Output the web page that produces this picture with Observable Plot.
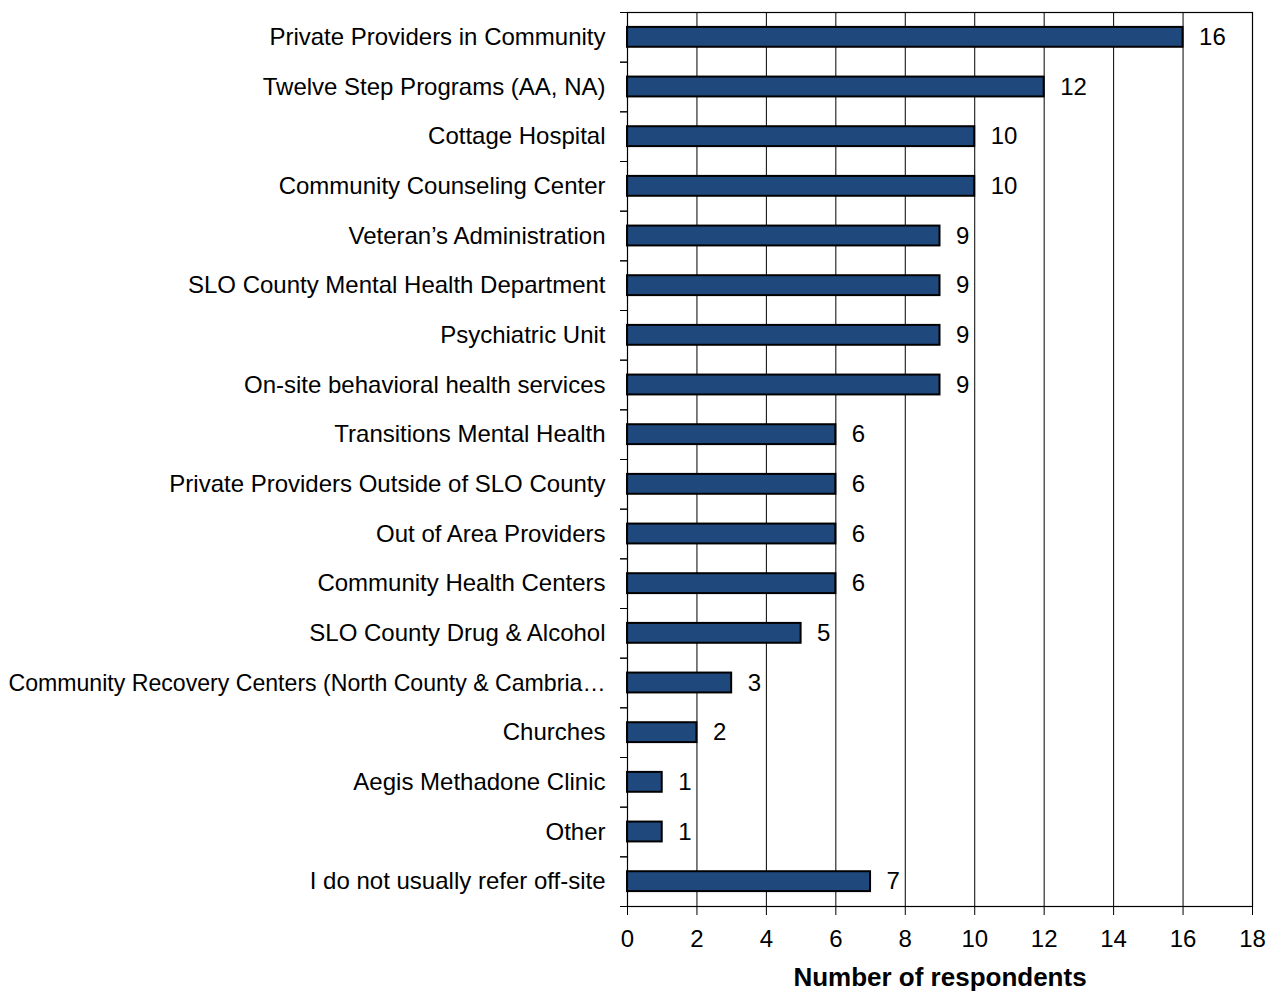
<!DOCTYPE html>
<html>
<head>
<meta charset="utf-8">
<script src="https://cdn.jsdelivr.net/npm/d3@7"></script>
<script src="https://cdn.jsdelivr.net/npm/@observablehq/plot@0.6"></script>
<style>
  html, body { margin: 0; padding: 0; background: #fff; }
</style>
</head>
<body>
<div id="chart"></div>
<script>
const categories = [
  "Private Providers in Community",
  "Twelve Step Programs (AA, NA)",
  "Cottage Hospital",
  "Community Counseling Center",
  "Veteran’s Administration",
  "SLO County Mental Health Department",
  "Psychiatric Unit",
  "On-site behavioral health services",
  "Transitions Mental Health",
  "Private Providers Outside of SLO County",
  "Out of Area Providers",
  "Community Health Centers",
  "SLO County Drug & Alcohol",
  "Community Recovery Centers (North County & Cambria…",
  "Churches",
  "Aegis Methadone Clinic",
  "Other",
  "I do not usually refer off-site"
];
const values = [16, 12, 10, 10, 9, 9, 9, 9, 6, 6, 6, 6, 5, 3, 2, 1, 1, 7];
const xTicks = [0, 2, 4, 6, 8, 10, 12, 14, 16, 18];
const xLabel = "Number of respondents";

const data = categories.map((c, i) => ({category: c, value: values[i]}));

const W = 1282, H = 992;
const mTop = 12, mBottom = 86, mLeft = 627, mRight = 30;
const step = (H - mTop - mBottom) / categories.length;

const chart = Plot.plot({
  width: W,
  height: H,
  marginTop: mTop,
  marginBottom: mBottom,
  marginLeft: mLeft,
  marginRight: mRight,
  style: {fontFamily: "'Liberation Sans', Arial, sans-serif", fontSize: "24px", color: "black", background: "white"},
  x: {domain: [0, 18]},
  y: {domain: categories, paddingInner: 0.6, paddingOuter: 0.3, round: false},
  marks: [
    Plot.ruleX(xTicks, {stroke: "black", strokeWidth: 1}),
    Plot.barX(data, {x: "value", y: "category", fill: "#1f497d", stroke: "black", strokeWidth: 2}),
    Plot.text(data, {x: "value", y: "category", text: d => String(d.value), textAnchor: "start", dx: 16, fontSize: 24, fill: "black"}),
    Plot.frame({stroke: "black", strokeWidth: 1.2}),
    Plot.axisY({tickSize: 0, tickPadding: 22, fontSize: 24, label: null, ariaLabel: "y-labels"}),
    Plot.axisY({tickSize: 7, tickFormat: () => "", dy: step / 2, label: null, stroke: "black"}),
    Plot.axisY({tickSize: 7, tickFormat: () => "", dy: -step / 2, label: null, stroke: "black"}),
    Plot.axisX({ticks: xTicks, tickSize: 9, tickPadding: 14, fontSize: 24, label: null, stroke: "black"}),
    Plot.axisX({ticks: [], tickSize: 0, label: xLabel, labelAnchor: "center", labelArrow: "none", labelOffset: 79, fontSize: 26, fontWeight: "bold"})
  ]
});
document.getElementById("chart").appendChild(chart);

// Fit over-long category labels into the space left of the axis
const maxLen = mLeft - 22 - 8;
d3.select(chart).selectAll("text").each(function() {
  if (categories.includes(this.textContent) && this.getComputedTextLength() > maxLen) {
    this.setAttribute("textLength", maxLen);
    this.setAttribute("lengthAdjust", "spacingAndGlyphs");
  }
});
</script>
</body>
</html>
